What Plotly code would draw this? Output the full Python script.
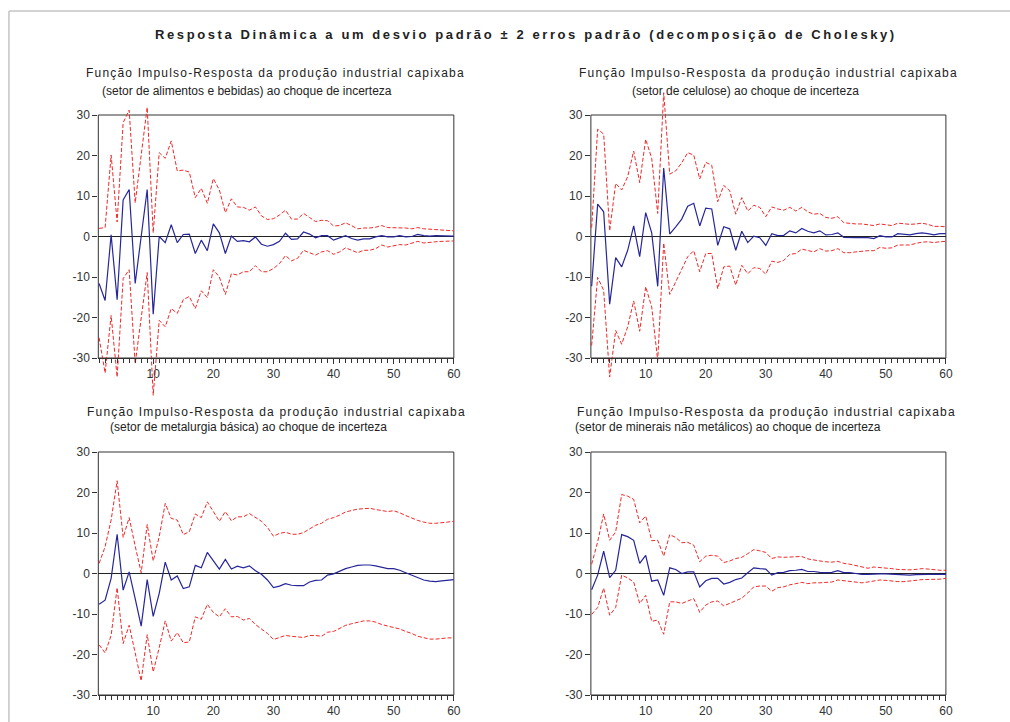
import plotly.graph_objects as go

W, H = 1010, 722
periods = list(range(1, 61))

titulo = "Resposta Dinâmica a um desvio padrão ± 2 erros padrão (decomposição de Cholesky)"
linha1 = "Função Impulso-Resposta da produção industrial capixaba"
setores = [
    "(setor de alimentos e bebidas) ao choque de incerteza",
    "(setor de celulose) ao choque de incerteza",
    "(setor de metalurgia básica) ao choque de incerteza",
    "(setor de minerais não metálicos) ao choque de incerteza",
]
y_ticks = [-30, -20, -10, 0, 10, 20, 30]
x_ticks = [10, 20, 30, 40, 50, 60]

resp1 = [-11.6, -15.8, 0.4, -15.6, 9.0, 11.6, -11.6, 0.0, 11.6, -19.2,
         0.0, -1.5, 2.9, -1.5, 0.5, 0.6, -4.2, -0.9, -3.5, 3.1,
         0.9, -4.2, 0.1, -1.2, -1.0, -1.3, -0.1, -1.9, -2.4, -2.0,
         -1.2, 0.8, -0.7, -0.6, 1.1, 0.6, -0.3, 0.2, 0.2, -0.9,
         -0.4, 0.2, -0.5, -0.9, -0.6, -0.6, -0.1, 0.2, -0.1, -0.1,
         0.2, -0.1, 0.0, 0.5, 0.2, 0.1, 0.2, 0.2, 0.2, 0.1]
up1 = [2.0, 2.2, 20.1, 3.6, 28.1, 31.2, 8.3, 20.0, 31.9, 0.9,
       20.7, 19.3, 23.6, 16.2, 16.4, 15.9, 9.6, 11.9, 8.2, 14.3,
       11.5, 5.9, 9.3, 7.3, 7.2, 6.5, 7.3, 5.1, 4.2, 4.4,
       5.3, 6.5, 4.3, 4.3, 5.7, 4.7, 3.7, 4.0, 3.9, 2.6,
       2.7, 3.4, 2.6, 1.9, 2.1, 2.1, 2.3, 2.7, 2.2, 2.2,
       2.2, 2.1, 1.9, 2.2, 1.9, 1.8, 1.8, 1.6, 1.6, 1.4]
lo1 = [-25.0, -33.7, -19.5, -34.7, -10.4, -8.2, -31.4, -20.0, -8.9, -39.2,
       -20.7, -22.3, -17.8, -19.0, -15.6, -14.8, -17.8, -13.4, -15.1, -8.2,
       -10.0, -14.3, -9.2, -9.5, -8.7, -8.7, -7.2, -8.7, -8.7, -7.9,
       -6.7, -4.7, -6.0, -5.4, -3.4, -4.0, -4.6, -3.8, -3.5, -4.4,
       -3.8, -2.8, -3.4, -4.0, -3.4, -3.4, -3.0, -2.1, -2.6, -2.3,
       -2.0, -2.1, -1.7, -1.2, -1.6, -1.4, -1.3, -1.2, -1.1, -1.1]

resp2 = [-12.3, 8.0, 6.1, -16.7, -5.2, -7.5, -3.4, 2.6, -5.0, 5.9,
         0.9, -12.3, 16.9, 0.6, 2.4, 4.3, 7.5, 8.2, 2.6, 7.0,
         6.8, -2.2, 2.4, 1.9, -3.4, 1.3, -1.5, 0.1, -0.3, -2.2,
         0.7, 0.2, 0.3, 1.4, 0.9, 2.0, 1.3, 0.9, 1.4, 0.4,
         0.5, 0.9, -0.2, -0.3, -0.3, -0.3, -0.3, -0.5, 0.2, -0.1,
         -0.1, 0.7, 0.6, 0.4, 0.7, 0.9, 0.7, 0.4, 0.7, 0.7]
up2 = [2.2, 26.5, 25.3, 1.4, 13.1, 11.5, 14.8, 21.1, 13.3, 24.0,
       19.3, 5.7, 35.5, 15.4, 16.2, 18.2, 20.7, 20.1, 14.2, 18.3,
       17.6, 8.6, 12.6, 11.3, 5.5, 9.6, 6.3, 7.7, 7.2, 4.9,
       7.3, 6.8, 6.5, 7.2, 6.3, 7.2, 6.1, 5.5, 5.7, 4.7,
       4.5, 4.9, 3.4, 3.2, 3.1, 3.1, 2.9, 2.7, 3.1, 2.9,
       2.7, 3.3, 3.1, 3.0, 3.1, 3.3, 3.0, 2.5, 2.5, 2.4]
lo2 = [-26.9, -10.1, -13.3, -34.7, -23.2, -26.6, -22.3, -15.9, -23.4, -12.4,
       -17.4, -30.6, -1.6, -14.3, -11.2, -8.3, -5.0, -3.5, -8.7, -4.2,
       -4.2, -12.9, -7.5, -7.3, -12.0, -7.1, -9.2, -7.7, -7.9, -9.3,
       -6.1, -6.4, -5.9, -4.4, -4.2, -3.1, -3.4, -3.8, -3.0, -3.6,
       -3.5, -3.0, -4.0, -4.0, -3.8, -3.6, -3.5, -3.5, -2.7, -2.9,
       -2.8, -2.1, -2.1, -2.1, -1.7, -1.4, -1.3, -1.5, -1.3, -1.2]

resp3 = [-7.6, -6.6, -1.2, 9.7, -4.1, 0.4, -6.2, -13.0, -1.5, -10.6,
         -4.9, 2.8, -1.6, -0.6, -3.7, -3.3, 2.0, 1.4, 5.2, 3.0,
         1.1, 3.5, 1.1, 1.8, 1.4, 1.9, 0.7, -0.2, -1.6, -3.5,
         -3.1, -2.5, -2.9, -3.0, -3.0, -2.1, -1.7, -1.6, -0.4, -0.1,
         0.5, 1.2, 1.6, 2.0, 2.1, 2.1, 1.9, 1.5, 1.2, 1.2,
         0.8, 0.2, -0.4, -1.1, -1.6, -1.9, -2.0, -1.8, -1.6, -1.5]
up3 = [2.5, 6.6, 13.2, 22.9, 8.9, 13.8, 6.8, 0.2, 12.1, 3.1,
       9.1, 17.3, 13.6, 13.2, 9.6, 10.3, 14.7, 13.8, 17.7, 15.3,
       12.9, 15.3, 13.0, 14.0, 14.0, 14.8, 13.8, 12.9, 11.4, 9.2,
       9.9, 10.2, 9.7, 9.7, 10.1, 11.1, 11.9, 12.4, 13.4, 13.8,
       14.4, 15.2, 15.6, 15.9, 16.0, 16.1, 15.8, 15.5, 15.3, 15.5,
       15.0, 14.3, 13.7, 13.1, 12.7, 12.4, 12.4, 12.5, 12.7, 12.9]
lo3 = [-17.6, -19.6, -15.3, -3.5, -17.3, -12.8, -19.6, -26.5, -15.1, -24.3,
       -18.3, -11.7, -16.7, -14.6, -17.1, -16.9, -10.7, -11.3, -7.6, -9.6,
       -10.7, -8.7, -10.7, -10.6, -11.5, -11.1, -12.6, -13.6, -14.8, -16.3,
       -15.7, -15.3, -15.5, -15.7, -15.8, -15.3, -15.3, -15.5, -14.5, -14.3,
       -13.6, -12.8, -12.4, -12.0, -11.7, -11.7, -12.0, -12.6, -13.0, -13.4,
       -13.7, -14.3, -14.8, -15.5, -15.9, -16.2, -16.2, -16.0, -15.9, -15.9]

resp4 = [-4.0, -0.4, 5.5, -1.0, 0.8, 9.6, 9.1, 8.2, 2.5, 4.5,
         -1.9, -1.6, -5.4, 1.4, 1.0, 0.0, 0.4, 0.4, -3.3, -1.8,
         -1.2, -1.2, -2.6, -2.2, -1.5, -1.1, 0.2, 1.4, 1.2, 1.1,
         -0.4, 0.2, 0.3, 0.7, 0.8, 1.0, 0.5, 0.5, 0.3, 0.2,
         0.3, 0.7, 0.2, 0.2, 0.0, -0.2, -0.2, -0.1, -0.1, -0.1,
         -0.2, -0.3, -0.4, -0.4, -0.3, -0.2, -0.2, -0.2, -0.2, -0.2]
up4 = [2.3, 7.8, 14.7, 8.2, 10.3, 19.5, 19.1, 18.3, 12.5, 14.2,
       8.1, 8.2, 4.3, 9.6, 8.9, 7.6, 7.7, 7.0, 2.9, 4.3,
       4.5, 4.3, 2.7, 3.1, 3.7, 4.0, 4.9, 5.9, 5.6, 5.2,
       3.7, 4.1, 4.0, 4.1, 4.2, 4.2, 3.6, 3.3, 3.1, 2.9,
       2.8, 3.0, 2.5, 2.3, 2.0, 1.6, 1.3, 1.6, 1.5, 1.3,
       1.2, 1.0, 0.9, 0.9, 1.0, 1.2, 1.1, 0.9, 0.8, 0.8]
lo4 = [-10.1, -8.4, -3.6, -10.3, -8.4, -0.4, -1.1, -2.1, -7.4, -5.4,
       -11.8, -11.5, -15.0, -7.0, -7.0, -7.4, -6.8, -6.2, -9.6, -7.8,
       -7.0, -6.8, -8.0, -7.4, -6.6, -6.1, -4.8, -3.3, -3.1, -3.1,
       -4.4, -3.5, -3.3, -2.8, -2.5, -2.2, -2.5, -2.3, -2.3, -2.2,
       -2.1, -1.6, -1.8, -2.0, -2.1, -2.3, -2.1, -1.8, -1.6, -1.7,
       -1.9, -2.0, -2.0, -1.9, -1.7, -1.5, -1.5, -1.5, -1.4, -1.2]

series = [(resp1, up1, lo1), (resp2, up2, lo2), (resp3, up3, lo3), (resp4, up4, lo4)]

# ---- layout geometry (pixels) ----
FONT = "Liberation Sans, Arial, sans-serif"
panels_px = [  # x0, x1, y at +30, y at -30
    (99, 457, 115, 358),
    (595, 952.5, 115, 358),
    (99, 457, 452, 695),
    (595, 952.5, 452, 695),
]
# drawing area extends beyond the framed +-30 box so bands can overshoot it
ext_range = [(-42, 38), (-42, 38), (-32, 32), (-32, 32)]
sub_px = [  # (center x, y) of line 1 and line 2
    ((277.5, 73), (248.5, 91)),
    ((773.5, 73), (750.5, 91)),
    ((278, 412), (250, 427)),
    ((772, 412), (733, 427)),
]

BLUE = "#26269a"
RED = "#f02828"
AX = "#333333"

fig = go.Figure()
layout = dict(
    width=W, height=H, margin=dict(l=0, r=0, t=0, b=0),
    paper_bgcolor="white", plot_bgcolor="rgba(0,0,0,0)", showlegend=False,
    font=dict(family=FONT, size=12, color=AX),
)
annotations, shapes = [], []
for i, ((resp, up, lo), (x0, x1, yt, yb)) in enumerate(zip(series, panels_px)):
    n = i + 1
    xa = "x" if n == 1 else f"x{n}"
    ya = "y" if n == 1 else f"y{n}"
    for vals, color, dash, width in ((up, RED, "4px,2px", 1.0),
                                     (lo, RED, "4px,2px", 1.0),
                                     (resp, BLUE, "solid", 1.2)):
        fig.add_trace(go.Scatter(x=periods, y=vals, mode="lines", xaxis=xa, yaxis=ya,
                                 line=dict(color=color, width=width, dash=dash),
                                 hoverinfo="skip"))
    rmin, rmax = ext_range[i]
    ppu = (yb - yt) / 60.0
    top_px = yt - (rmax - 30) * ppu
    bot_px = yb + (-30 - rmin) * ppu
    axkey_x = "xaxis" if n == 1 else f"xaxis{n}"
    axkey_y = "yaxis" if n == 1 else f"yaxis{n}"
    layout[axkey_x] = dict(
        domain=[x0 / W, x1 / W], range=[0.87, 60], anchor="free", position=1 - yb / H,
        showline=True, linecolor=AX, linewidth=1,
        showgrid=False, zeroline=False,
        tickmode="array", tickvals=x_ticks, ticktext=[str(t) for t in x_ticks],
        ticks="outside", ticklen=5, tickcolor=AX,
        minor=dict(dtick=1, tick0=0, ticks="outside", ticklen=4, tickcolor=AX),
        tickfont=dict(family=FONT, size=12, color=AX),
    )
    layout[axkey_y] = dict(
        domain=[1 - bot_px / H, 1 - top_px / H], range=[rmin, rmax], anchor=xa,
        showline=False, showgrid=False,
        zeroline=True, zerolinecolor="#222222", zerolinewidth=1,
        tickmode="array", tickvals=y_ticks, ticktext=[str(t) for t in y_ticks],
        ticks="outside", ticklen=5, tickcolor=AX,
        tickfont=dict(family=FONT, size=12, color=AX),
    )
    # frame of the panel (the +-30 box)
    shapes.append(dict(type="rect", xref=f"{xa} domain", yref=ya, x0=0, x1=1, y0=-30, y1=30,
                       line=dict(color=AX, width=1), layer="below"))
    (l1x, l1y), (l2x, l2y) = sub_px[i]
    annotations.append(dict(text=linha1, x=l1x / W, y=1 - l1y / H, xref="paper", yref="paper",
                            xanchor="center", yanchor="middle", showarrow=False,
                            font=dict(family=FONT, size=12, color="#222222")))
    annotations.append(dict(text=setores[i], x=l2x / W, y=1 - l2y / H, xref="paper", yref="paper",
                            xanchor="center", yanchor="middle", showarrow=False,
                            font=dict(family=FONT, size=12, color="#222222")))

annotations.append(dict(text="<b>" + titulo + "</b>", x=530 / W, y=1 - 35 / H, xref="paper", yref="paper",
                        xanchor="center", yanchor="middle", showarrow=False,
                        font=dict(family=FONT, size=13, color="#222222")))
shapes += [
    dict(type="line", xref="paper", yref="paper", x0=9 / W, x1=9 / W, y0=-0.05, y1=1 - 11 / H,
         line=dict(color="#c4c4c4", width=1.5)),
    dict(type="line", xref="paper", yref="paper", x0=9 / W, x1=1.05, y0=1 - 11 / H, y1=1 - 11 / H,
         line=dict(color="#c4c4c4", width=1.5)),
]
layout["annotations"] = annotations
layout["shapes"] = shapes
fig.update_layout(**layout)

post = """
var gd = document.getElementById('{plot_id}');
gd.querySelectorAll('text.annotation-text').forEach(function(t){
  var s = t.textContent;
  if (s.indexOf('Resposta Din') === 0) { t.style.letterSpacing = '2.6px'; }
  else if (s.indexOf('Fun') === 0) { t.style.letterSpacing = '1.2px'; }
});
"""
fig.write_html("out.html", post_script=post)
